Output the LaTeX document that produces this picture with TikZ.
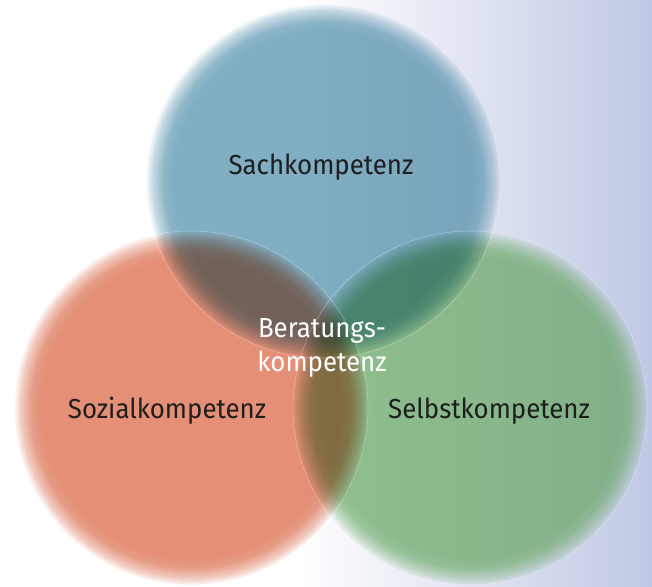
\documentclass[tikz,border=0pt]{standalone}
\usepackage{fontspec}
\setmainfont[FakeStretch=0.94]{Fira Sans}
\usetikzlibrary{fadings}
\pgfdeclareradialshading{softdiskshade}{\pgfpointorigin}{color(0bp)=(pgftransparent!0); color(21bp)=(pgftransparent!0); color(22.5bp)=(pgftransparent!12); color(24bp)=(pgftransparent!55); color(25bp)=(pgftransparent!100); color(50bp)=(pgftransparent!100)}
\pgfdeclarefading{softdisk}{\pgfuseshading{softdiskshade}}
\definecolor{blueC}{RGB}{128,174,194}
\definecolor{redC}{RGB}{228,143,118}
\definecolor{greenC}{RGB}{145,194,143}
\definecolor{bgR}{RGB}{192,200,228}
\definecolor{txt}{RGB}{30,30,30}
\tikzset{
  disk/.style={path fading=softdisk, blend mode=multiply},
  lift/.style={path fading=softdisk, fill=white, fill opacity=0.55},
  rim/.style={draw=white, draw opacity=0.35, line width=0.5pt},
  lbl/.style={font={\fontsize{27.5}{34}\selectfont}, text=txt, inner sep=0pt},
}
\begin{document}
\begin{tikzpicture}[x=1pt,y=-1pt]
\useasboundingbox (0,0) rectangle (652,586);
\fill[white] (0,0) rectangle (652,586);
\shade[left color=white, right color=bgR] (300,0) rectangle (652,586);
\coordinate (cb) at (323,181);
\coordinate (cr) at (191,408);
\coordinate (cg) at (470,408);
\fill[lift] (cb) circle[radius=177pt];
\fill[lift] (cr) circle[radius=177pt];
\fill[lift] (cg) circle[radius=177pt];
\fill[disk, fill=blueC] (cb) circle[radius=177pt];
\fill[disk, fill=redC] (cr) circle[radius=177pt];
\fill[disk, fill=greenC] (cg) circle[radius=177pt];
\path[rim] (cb) circle[radius=177pt];
\path[rim] (cr) circle[radius=177pt];
\path[rim] (cg) circle[radius=177pt];
\node[lbl, anchor=base] (sach) at (321,174) {Sachkompetenz};
\node[lbl, anchor=base] (sozial) at (167,418) {Sozialkompetenz};
\node[lbl, anchor=base] (selbst) at (489,418) {Selbstkompetenz};
\node[lbl, text=white, align=center] (berat) at (322,348) {Beratungs-\\kompetenz};
\end{tikzpicture}
\end{document}
